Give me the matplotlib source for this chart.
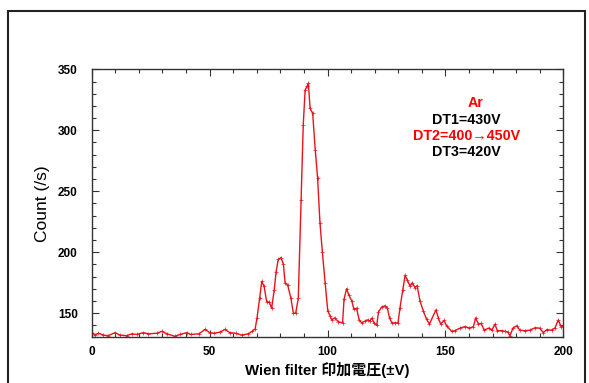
import matplotlib
matplotlib.use('Agg')
import matplotlib.pyplot as plt
from matplotlib.ticker import MultipleLocator
from matplotlib.patches import Rectangle

# Wien filter voltage (V) and count rate (/s)
volts = [0, 1.4, 2.8, 4.9, 7, 9.9, 12, 14.8, 17, 19, 21.9, 24, 27.6, 29.7, 32,
         35.2, 37.5, 40.3, 42, 45.5, 48.1, 50, 52, 54.5, 56.6, 58.5, 61, 63.6,
         66.4, 68, 69.3, 70.1, 71.2, 72.1, 73.1, 74.2, 75.3, 76.3, 77.4, 78.2,
         79.1, 80.3, 81.3, 82, 83.1, 84.5, 85.5, 86.5, 87.6, 88.8, 89.7, 90.5,
         91.3, 91.9, 92.6, 93.7, 94.8, 95.8, 96.8, 97.8, 99, 100.1, 101, 101.8,
         103, 104.6, 106.4, 107, 108.1, 109, 110.3, 111.2, 112.3, 113.4, 114.5,
         115.9, 117, 118, 118.8, 119.7, 120.9, 121.6, 123, 124.4, 125.4, 126.3,
         127.3, 128.7, 129.9, 130.7, 131.9, 132.9, 133.9, 135, 136, 137, 138,
         139.2, 140.6, 142, 143.2, 146, 147, 148, 149.4, 150.5, 152.7, 154,
         156.2, 158.3, 160.2, 161.9, 162.8, 164, 165.2, 166.4, 168.3, 169.7,
         171, 172, 173.9, 175.3, 176.5, 177.4, 178.6, 180.2, 181.6, 183.7,
         185.8, 188, 190, 191.5, 193, 195, 196.4, 197.9, 199, 200]
counts = [134, 132, 133.5, 132, 131.5, 134, 132, 131.5, 133, 132.5, 134, 133,
          133.5, 135, 133, 131, 132.5, 134, 132.5, 133, 136.7, 134, 133.5,
          134.5, 136.7, 134, 133.5, 132, 133, 135, 137, 146, 162, 176, 172,
          159.5, 159, 154, 169, 184, 194, 195.6, 190, 175, 173, 162, 150, 150,
          162, 243, 304, 333, 336, 338.5, 318, 314, 284, 260.7, 224, 200.5,
          174.6, 152, 148, 144.5, 146, 143, 142, 161.5, 170, 165, 160, 153, 154,
          144.5, 142, 143.5, 144.5, 143.5, 146, 142, 140, 151, 155, 156, 154,
          146, 142, 142, 142, 154, 169, 181, 177, 172, 175, 171, 172.5, 160,
          152, 145, 141, 152.7, 146, 141, 144, 139.5, 135, 135.6, 137.7, 139,
          137.7, 139, 146, 141, 141.5, 136, 137.7, 136, 141, 135.6, 135.6, 135,
          134.5, 131.4, 137.7, 139.6, 136, 135.6, 136, 138, 137.7, 134, 136.5,
          136, 137.7, 144.5, 139, 139.6]

notes = ['Ar', 'DT1=430V', 'DT2=400\u2192450V', 'DT3=420V']
note_colors = ['#ff0000', 'black', '#ff0000', 'black']

fig = plt.figure(figsize=(5.89, 3.83), dpi=100)
ax = fig.add_axes([0.1557, 0.1188, 0.8007, 0.7002])

ax.plot(volts, counts, color='#e8141c', lw=1.0, marker='+', ms=2.5, mew=0.5)

ax.set_xlim(0, 200)
ax.set_ylim(130, 350)
ax.xaxis.set_major_locator(MultipleLocator(50))
ax.xaxis.set_minor_locator(MultipleLocator(10))
ax.yaxis.set_major_locator(MultipleLocator(50))
ax.yaxis.set_minor_locator(MultipleLocator(10))
ax.tick_params(which='both', direction='in', top=True, right=True, width=0.8, color='#333333')
ax.tick_params(which='major', length=5)
ax.tick_params(which='minor', length=3)
ax.tick_params(axis='y', which='major', pad=10)
ax.tick_params(axis='x', which='major', pad=6)
for lab in ax.get_xticklabels() + ax.get_yticklabels():
    lab.set_fontfamily('Liberation Sans')
    lab.set_fontweight('bold')
    lab.set_fontsize(8.5)
for sp in ax.spines.values():
    sp.set_linewidth(1.0)
    sp.set_color('#333333')

ax.set_xlabel('Wien filter 印加電圧(±V)', family=['Liberation Sans', 'Noto Sans CJK JP'],
              fontweight='bold', fontsize=10.8, labelpad=3)
ax.set_ylabel('Count (/s)', family=['Liberation Sans'], fontsize=12.5, labelpad=6)

# annotation block, centred around x ~ 468 px
xs = [0.814, 0.795, 0.795, 0.795]
ys = [0.873, 0.81, 0.75, 0.69]
for txt, c, x, y in zip(notes, note_colors, xs, ys):
    ax.text(x, y, txt, transform=ax.transAxes, ha='center', va='center',
            color=c, fontsize=10.3, fontweight='bold', family='Liberation Sans')

# outer frame of the original figure
fig.add_artist(Rectangle((7.5 / 589, -0.05), (585 - 7.5) / 589, 1.05 - 11 / 383,
                         transform=fig.transFigure, fill=False, lw=1.5, ec='#222222'))

fig.savefig('out.png', dpi=100)
